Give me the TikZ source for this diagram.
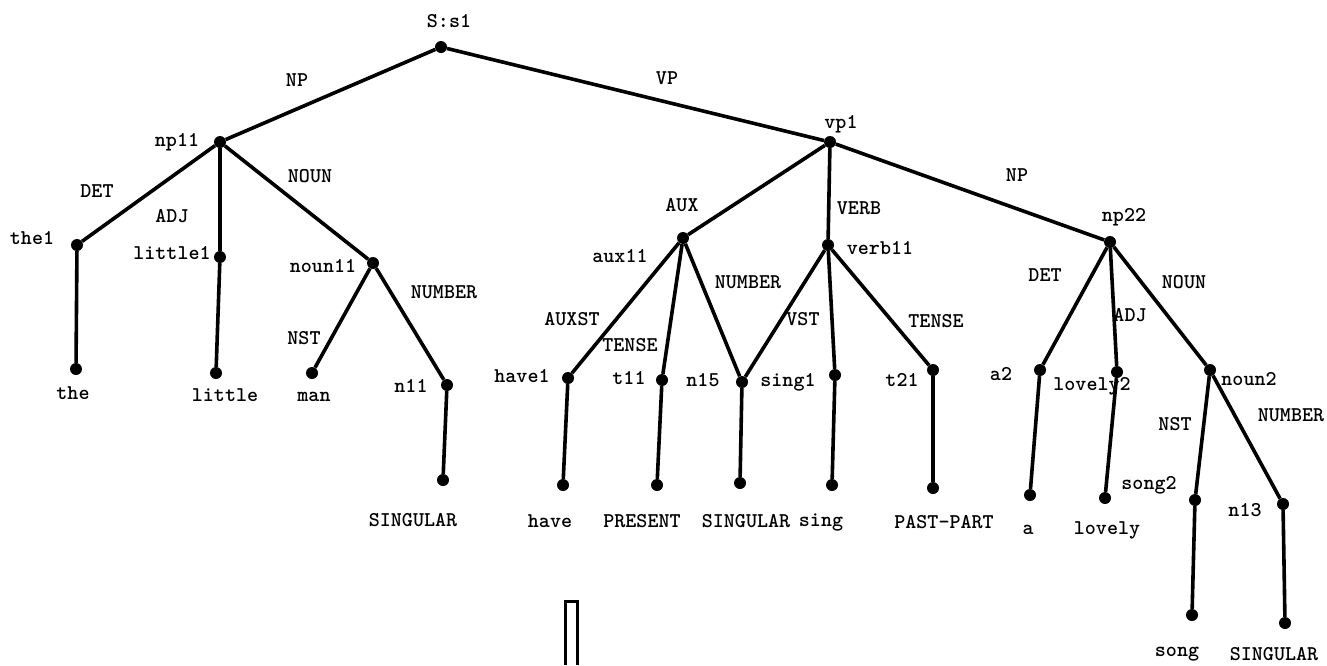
\documentclass[tikz,border=0pt]{standalone}
\usepackage{tikz}
\usetikzlibrary{calc}
\tikzset{
  knot/.style={circle, fill=black, inner sep=0pt, minimum size=12pt},
  lbl/.style={font=\fontsize{21}{24}\selectfont\ttfamily\bfseries, inner sep=0pt},
  arc/.style={line width=3.6pt}
}

\begin{document}
\begin{tikzpicture}[x=1pt, y=-1pt]
    \useasboundingbox (0,0) rectangle (1327,665);
    % Dots of the tree
    \node[knot] (s1) at (441,47) {};
    \node[knot] (np11) at (220,142) {};
    \node[knot] (vp1) at (830,142) {};
    \node[knot] (the1) at (77,245) {};
    \node[knot] (little1) at (220,257) {};
    \node[knot] (noun11) at (373,263) {};
    \node[knot] (theL) at (76,369) {};
    \node[knot] (littleL) at (216,373) {};
    \node[knot] (manL) at (312,373) {};
    \node[knot] (n11) at (447,385) {};
    \node[knot] (n11L) at (443,480) {};
    \node[knot] (aux11) at (683,238) {};
    \node[knot] (verb11) at (828,245) {};
    \node[knot] (have1) at (568,378) {};
    \node[knot] (t11) at (662,380) {};
    \node[knot] (n15) at (742,382) {};
    \node[knot] (vmid) at (835,375) {};
    \node[knot] (t21) at (933,370) {};
    \node[knot] (haveL) at (563,485) {};
    \node[knot] (t11L) at (657,485) {};
    \node[knot] (n15L) at (740,483) {};
    \node[knot] (singL) at (832,485) {};
    \node[knot] (t21L) at (933,488) {};
    \node[knot] (np22) at (1110,242) {};
    \node[knot] (a2) at (1040,370) {};
    \node[knot] (lovely2) at (1117,372) {};
    \node[knot] (noun2) at (1210,370) {};
    \node[knot] (aL) at (1030,495) {};
    \node[knot] (lovelyL) at (1105,498) {};
    \node[knot] (song2) at (1195,500) {};
    \node[knot] (n13) at (1283,504) {};
    \node[knot] (songL) at (1192,615) {};
    \node[knot] (n13L) at (1285,623) {};

    % Arcs
    \draw[arc] (s1) -- (np11);
    \draw[arc] (s1) -- (vp1);
    \draw[arc] (np11) -- (the1);
    \draw[arc] (np11) -- (little1);
    \draw[arc] (np11) -- (noun11);
    \draw[arc] (the1) -- (theL);
    \draw[arc] (little1) -- (littleL);
    \draw[arc] (noun11) -- (manL);
    \draw[arc] (noun11) -- (n11);
    \draw[arc] (n11) -- (n11L);
    \draw[arc] (vp1) -- (aux11);
    \draw[arc] (vp1) -- (verb11);
    \draw[arc] (vp1) -- (np22);
    \draw[arc] (aux11) -- (have1);
    \draw[arc] (aux11) -- (t11);
    \draw[arc] (aux11) -- (n15);
    \draw[arc] (verb11) -- (n15);
    \draw[arc] (verb11) -- (vmid);
    \draw[arc] (verb11) -- (t21);
    \draw[arc] (have1) -- (haveL);
    \draw[arc] (t11) -- (t11L);
    \draw[arc] (n15) -- (n15L);
    \draw[arc] (vmid) -- (singL);
    \draw[arc] (t21) -- (t21L);
    \draw[arc] (np22) -- (a2);
    \draw[arc] (np22) -- (lovely2);
    \draw[arc] (np22) -- (noun2);
    \draw[arc] (a2) -- (aL);
    \draw[arc] (lovely2) -- (lovelyL);
    \draw[arc] (noun2) -- (song2);
    \draw[arc] (noun2) -- (n13);
    \draw[arc] (song2) -- (songL);
    \draw[arc] (n13) -- (n13L);

    % Node names
    \node[lbl] (ts1) at (449,21) {S:s1};
    \node[lbl] (tnp11) at (177,142) {np11};
    \node[lbl] (tvp1) at (841,124) {vp1};
    \node[lbl] (tthe1) at (32,238) {the1};
    \node[lbl] (tlittle1) at (172,253) {little1};
    \node[lbl] (tnoun11) at (323,266) {noun11};
    \node[lbl] (tn11) at (411,386) {n11};
    \node[lbl] (taux11) at (620,256) {aux11};
    \node[lbl] (tverb11) at (880,248) {verb11};
    \node[lbl] (thave1) at (522,376) {have1};
    \node[lbl] (tt11) at (629,378) {t11};
    \node[lbl] (tn15) at (703,380) {n15};
    \node[lbl] (tsing1) at (788,382) {sing1};
    \node[lbl] (tt21) at (902,380) {t21};
    \node[lbl] (tnp22) at (1124,217) {np22};
    \node[lbl] (ta2) at (1001,374) {a2};
    \node[lbl] (tlovely2) at (1092,386) {lovely2};
    \node[lbl] (tnoun2) at (1249,379) {noun2};
    \node[lbl] (tsong2) at (1149,485) {song2};
    \node[lbl] (tn13) at (1245,510) {n13};

    % Arc labels
    \node[lbl] (eNP) at (297,80) {NP};
    \node[lbl] (eVP) at (667,78) {VP};
    \node[lbl] (eDETa) at (97,191) {DET};
    \node[lbl] (eADJa) at (172,216) {ADJ};
    \node[lbl] (eNOUNa) at (310,176) {NOUN};
    \node[lbl] (eNSTa) at (304,338) {NST};
    \node[lbl] (eNUMa) at (444,292) {NUMBER};
    \node[lbl] (eAUX) at (682,205) {AUX};
    \node[lbl] (eVERB) at (859,208) {VERB};
    \node[lbl] (eNPb) at (1017,175) {NP};
    \node[lbl] (eAUXST) at (572,319) {AUXST};
    \node[lbl] (eTENSEa) at (630,345) {TENSE};
    \node[lbl] (eNUMb) at (748,282) {NUMBER};
    \node[lbl] (eVST) at (803,319) {VST};
    \node[lbl] (eTENSEb) at (936,321) {TENSE};
    \node[lbl] (eDETb) at (1045,275) {DET};
    \node[lbl] (eADJb) at (1130,315) {ADJ};
    \node[lbl] (eNOUNb) at (1184,282) {NOUN};
    \node[lbl] (eNSTb) at (1175,424) {NST};
    \node[lbl] (eNUMc) at (1291,415) {NUMBER};

    % Leaf words
    \node[lbl] (wthe) at (73,393) {the};
    \node[lbl] (wlittle) at (225,395) {little};
    \node[lbl] (wman) at (314,397) {man};
    \node[lbl] (wsga) at (413,520) {SINGULAR};
    \node[lbl] (whave) at (550,521) {have};
    \node[lbl] (wpres) at (642,521) {PRESENT};
    \node[lbl] (wsgb) at (746,521) {SINGULAR};
    \node[lbl] (wsing) at (821,522) {sing};
    \node[lbl] (wpast) at (944,522) {PAST-PART};
    \node[lbl] (wa) at (1028,530) {a};
    \node[lbl] (wlovely) at (1107,530) {lovely};
    \node[lbl] (wsong) at (1177,654) {song};
    \node[lbl] (wsgc) at (1274,654) {SINGULAR};

    % open bar at the bottom
    \draw[line width=3pt] (565,665) -- (565,601) -- (577,601) -- (577,665);
\end{tikzpicture}
\end{document}
